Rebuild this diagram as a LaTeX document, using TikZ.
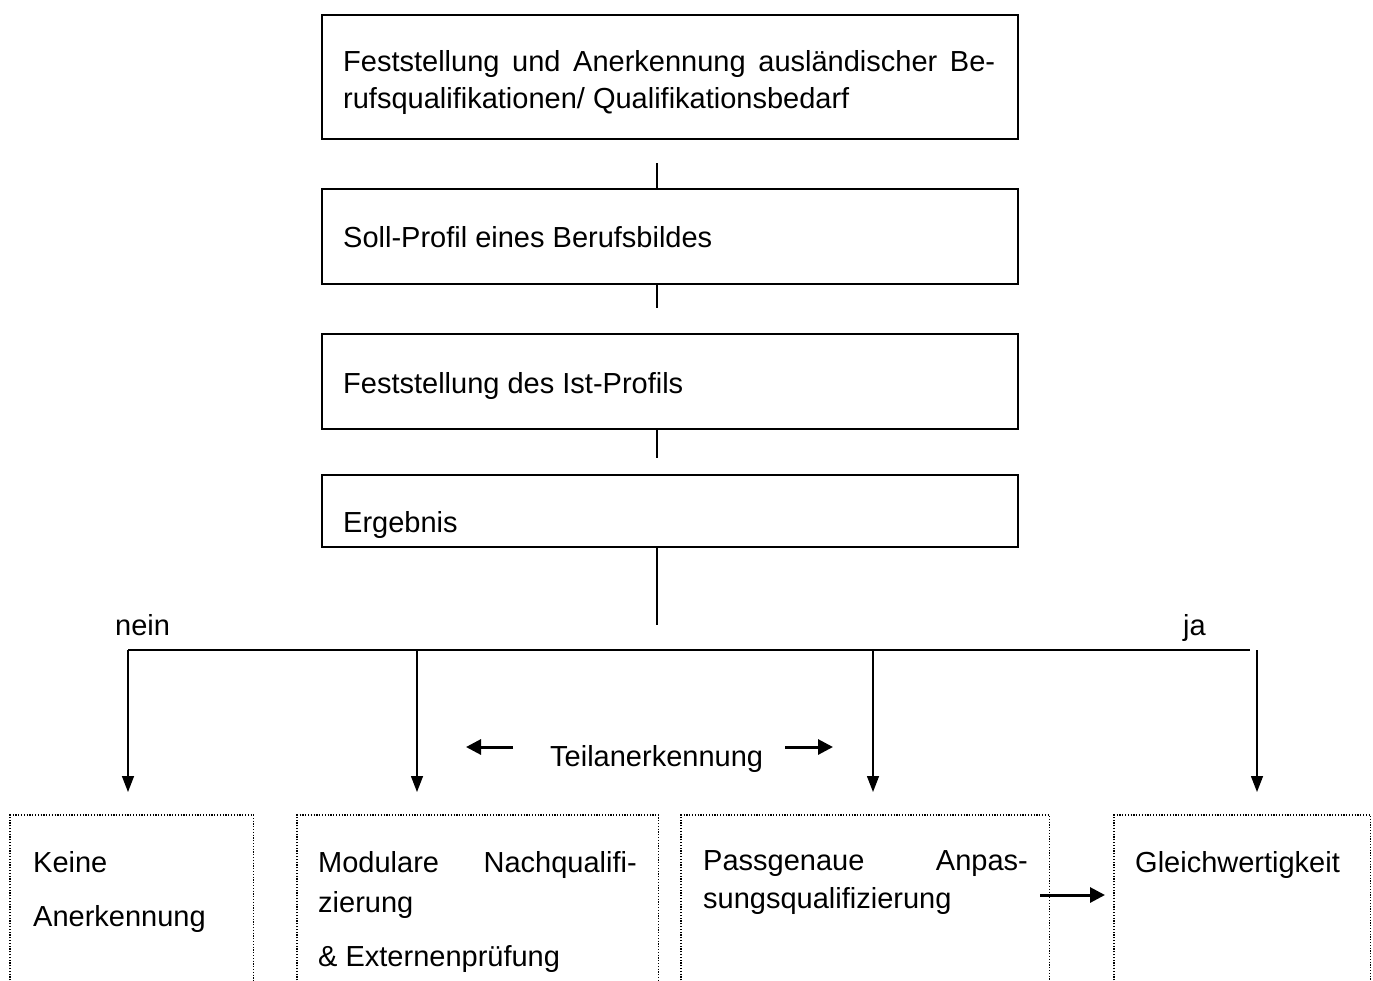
\documentclass[tikz,border=0pt]{standalone}
\usepackage{fontspec}
\setmainfont{Liberation Sans}
\usetikzlibrary{arrows.meta}
\begin{document}
\begin{tikzpicture}[x=1pt,y=-1pt,
  solidbox/.style={draw,line width=1.6pt,minimum width=696pt,anchor=north west,inner sep=0pt},
  dotbox/.style={draw=none,anchor=north west,inner sep=0pt,minimum height=165pt},
  txt/.style={anchor=base west,inner sep=0pt,font=\fontsize{29}{38}\selectfont},
  txtr/.style={anchor=base east,inner sep=0pt,font=\fontsize{29}{38}\selectfont},
  link/.style={line width=1.4pt},
  arr/.style={line width=1.4pt,-{Triangle[length=16pt,width=12pt]}},
  thickarr/.style={line width=3pt,-{Triangle[length=15pt,width=15pt]}},
  dotline/.style={line width=1.2pt,dash pattern=on 1.2pt off 1.6pt}
]
\useasboundingbox (0,0) rectangle (1373,980);
% top boxes
\node[solidbox,minimum height=124pt] (b1) at (321,14) {};
\node[solidbox,minimum height=95pt] (b2) at (321,188) {};
\node[solidbox,minimum height=95pt] (b3) at (321,333) {};
\node[solidbox,minimum height=72pt] (b4) at (321,474) {};
\node[txt] (t1a) at (343,71) {\makebox[652pt][s]{Feststellung und Anerkennung ausländischer Be-}};
\node[txt] (t1b) at (343,108) {rufsqualifikationen/ Qualifikationsbedarf};
\node[txt] (t2) at (343,247) {Soll-Profil eines Berufsbildes};
\node[txt] (t3) at (343,393) {Feststellung des Ist-Profils};
\node[txt] (t4) at (343,532) {Ergebnis};
% vertical connectors
\coordinate (c1a) at (657,163); \coordinate (c1b) at (b2.north -| c1a);
\coordinate (c2a) at (b2.south -| c1a); \coordinate (c2b) at (657,308);
\coordinate (c3a) at (b3.south -| c1a); \coordinate (c3b) at (657,458);
\coordinate (c4a) at (b4.south -| c1a); \coordinate (c4b) at (657,625);
\draw[link] (c1a) -- (c1b);
\draw[link] (c2a) -- (c2b);
\draw[link] (c3a) -- (c3b);
\draw[link] (c4a) -- (c4b);
% bus
\coordinate (busL) at (128,650); \coordinate (busR) at (1250,650);
\draw[line width=2pt] (busL) -- (busR);
\node[txt] (nein) at (115,635) {nein};
\node[txt] (ja) at (1183,635) {ja};
% bottom boxes
\node[dotbox,minimum width=243pt] (bA) at (10,815) {};
\node[dotbox,minimum width=361pt] (bB) at (297,815) {};
\node[dotbox,minimum width=368pt] (bC) at (681,815) {};
\node[dotbox,minimum width=256pt] (bD) at (1114,815) {};
\foreach \b in {bA,bB,bC,bD}{
  \draw[dotline] (\b.south west) -- (\b.north west) -- (\b.north east) -- (\b.south east);
}
% down arrows
\coordinate (a1s) at (128,650); \coordinate (a1e) at (128,792);
\coordinate (a2s) at (417,650); \coordinate (a2e) at (417,792);
\coordinate (a3s) at (873,650); \coordinate (a3e) at (873,792);
\coordinate (a4s) at (1257,650); \coordinate (a4e) at (1257,792);
\draw[arr] (a1s) -- (a1e);
\draw[arr] (a2s) -- (a2e);
\draw[arr] (a3s) -- (a3e);
\draw[arr] (a4s) -- (a4e);
% Teilanerkennung
\node[txt] (teil) at (550,766) {Teilanerkennung};
\coordinate (tls) at (513,747); \coordinate (tl) at (466,747);
\coordinate (trs) at (785,747); \coordinate (tr) at (833,747);
\draw[thickarr] (tls) -- (tl);
\draw[thickarr] (trs) -- (tr);
% bottom texts
\node[txt] (kA1) at (33,872) {Keine};
\node[txt] (kA2) at (33,926) {Anerkennung};
\node[txt] (kB1) at (318,872) {Modulare};
\node[txtr] (kB1r) at (637,872) {Nachqualifi-};
\node[txt] (kB2) at (318,912) {zierung};
\node[txt] (kB3) at (318,966) {\& Externenprüfung};
\node[txt] (kC1) at (703,870) {Passgenaue};
\node[txtr] (kC1r) at (1028,870) {Anpas-};
\node[txt] (kC2) at (703,908) {sungsqualifizierung};
\node[txt] (kD1) at (1135,872) {Gleichwertigkeit};
% C to D arrow
\coordinate (cdS) at (1040,895); \coordinate (cdE) at (1105,895);
\draw[thickarr] (cdS) -- (cdE);
\end{tikzpicture}
\end{document}
